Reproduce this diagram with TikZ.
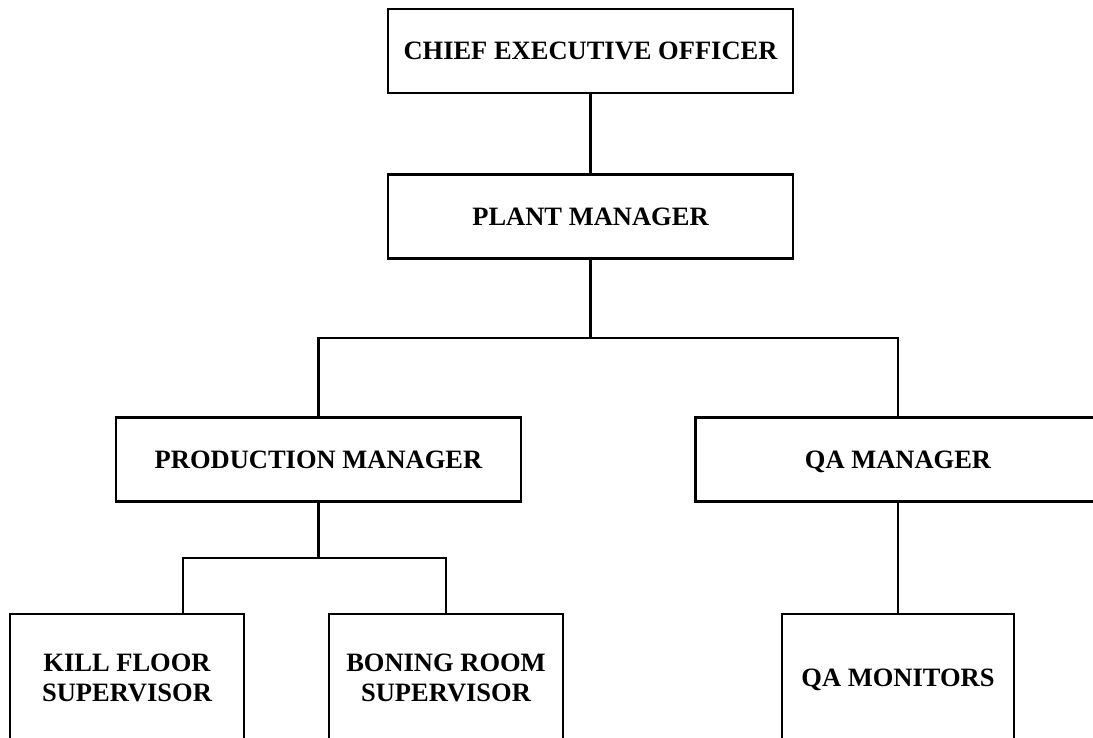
\documentclass[tikz,border=0pt]{standalone}
\usepackage{fontspec}
\setmainfont{Liberation Serif}
\begin{document}
\begin{tikzpicture}[x=1pt,y=-1pt,
  every node/.style={font=\fontsize{26.5}{30}\selectfont\bfseries},
  orgbox/.style={draw=black,line width=2.6pt,fill=white,inner sep=0pt,
    align=center,anchor=center,text depth=0pt},
  wide/.style={orgbox,minimum width=405pt,minimum height=84pt},
  tall/.style={orgbox,minimum width=234pt,minimum height=128pt},
  link/.style={draw=black,line width=2.6pt}]
\useasboundingbox (0,0) rectangle (1093,738);
\clip (0,0) rectangle (1093,738);

% boxes
\node[wide] (ceo)  at (590.5,51)    {CHIEF EXECUTIVE OFFICER};
\node[wide] (pm)   at (590.5,216.5) {PLANT MANAGER};
\node[wide] (prod) at (318.5,459.5) {PRODUCTION MANAGER};
\node[wide] (qa)   at (898,459.5)   {QA MANAGER};
\node[tall] (kill) at (127,678)     {KILL FLOOR\\SUPERVISOR};
\node[tall] (bon)  at (446,678)     {BONING ROOM\\SUPERVISOR};
\node[tall,minimum width=232pt] (mon) at (898,678) {QA MONITORS};

% junction points of the connectors
\coordinate (j1) at (590.5,338);
\coordinate (j2) at (318.5,558);

% connectors
\draw[link] (ceo.south) -- (pm.north);
\draw[link] (pm.south) -- (j1);
\draw[link] (prod.north) |- (j1) -| (qa.north);
\draw[link] (prod.south) -- (j2);
\draw[link] ([xshift=56pt]kill.north) |- (j2) -| (bon.north);
\draw[link] (qa.south) -- (mon.north);
\end{tikzpicture}
\end{document}
